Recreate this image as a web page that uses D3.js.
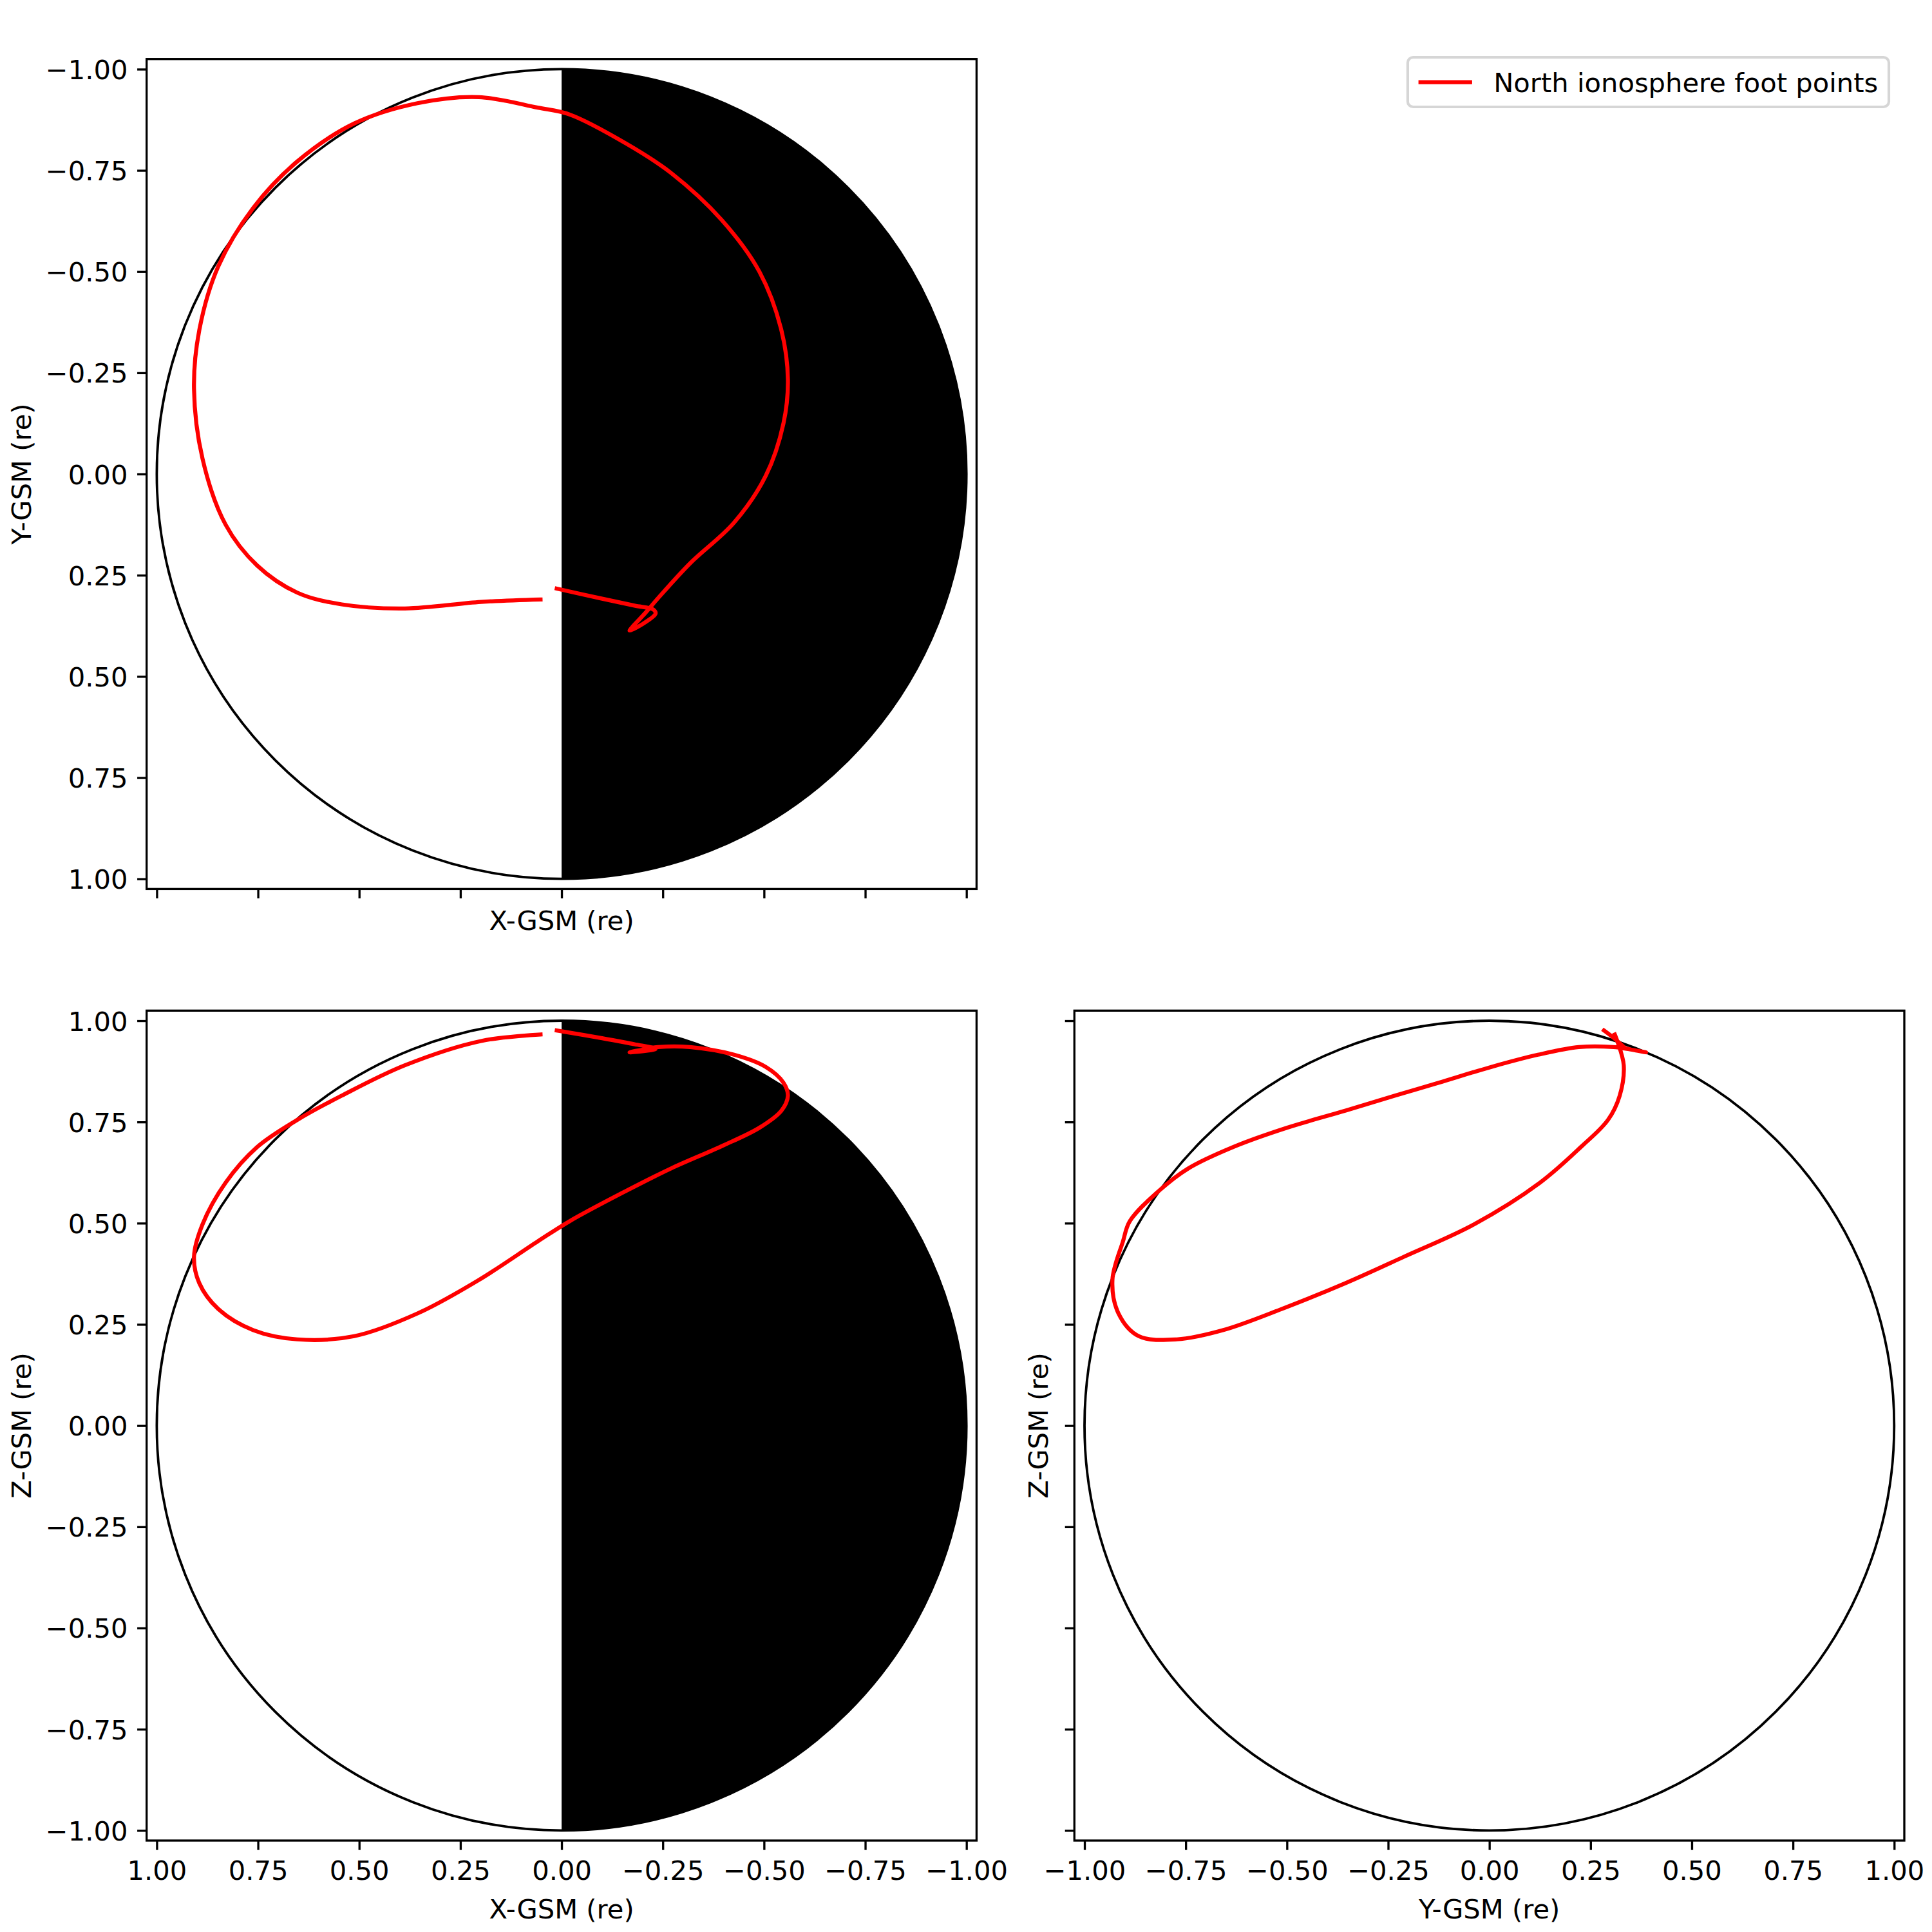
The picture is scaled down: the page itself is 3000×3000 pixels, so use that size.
<!DOCTYPE html>
<html>
<head>
<meta charset="utf-8">
<script src="https://cdn.jsdelivr.net/npm/d3@7"></script>
<style>
  body { margin: 0; background: #fff; }
  text { font-family: "DejaVu Sans", sans-serif; }
</style>
</head>
<body>
<script>
// North ionosphere foot points, GSM coordinates (re), in trace order
const gsmX = [0.012, -0.100, -0.180, -0.227, -0.232, -0.168, -0.207, -0.238, -0.317, -0.426,
              -0.504, -0.548, -0.559, -0.543, -0.489, -0.395, -0.270, -0.160, -0.020, 0.059,
              0.204, 0.356, 0.512, 0.653, 0.762, 0.848, 0.895, 0.908, 0.887, 0.830,
              0.752, 0.653, 0.543, 0.387, 0.199, 0.052];
const gsmY = [0.283, 0.308, 0.325, 0.335, 0.345, 0.387, 0.343, 0.307, 0.221, 0.120,
              0.005, -0.125, -0.233, -0.355, -0.499, -0.628, -0.744, -0.816, -0.888, -0.905,
              -0.931, -0.916, -0.866, -0.772, -0.657, -0.513, -0.355, -0.211, -0.038, 0.125,
              0.226, 0.293, 0.322, 0.332, 0.316, 0.310];
const gsmZ = [0.976, 0.957, 0.942, 0.933, 0.930, 0.922, 0.930, 0.935, 0.935, 0.916,
              0.886, 0.847, 0.815, 0.778, 0.736, 0.690, 0.635, 0.580, 0.505, 0.455,
              0.360, 0.277, 0.221, 0.213, 0.236, 0.288, 0.352, 0.417, 0.497, 0.600,
              0.688, 0.755, 0.815, 0.890, 0.950, 0.966];

const tickValues = [-1, -0.75, -0.5, -0.25, 0, 0.25, 0.5, 0.75, 1];
const legendLabel = "North ionosphere foot points";

const points = gsmX.map((x, i) => ({X: x, Y: gsmY[i], Z: gsmZ[i]}));

const W = 3000, H = 3000;
const size = 1288.7;
const lim = 1.025;
const fs = 41.67;           // 10pt at 300 dpi
const tickLen = 14.6, tickPad = 14.6, lw = 3.33;

const svg = d3.select("body").append("svg")
  .attr("width", W).attr("height", H);
svg.append("rect").attr("width", W).attr("height", H).attr("fill", "#fff");

const panels = [
  {left: 227.7, top: 91.7, h: "X", v: "Y", hDom: [lim, -lim], vDom: [-lim, lim],
   hLabel: "X-GSM (re)", vLabel: "Y-GSM (re)", hTicks: false, vTicks: true, night: true},
  {left: 227.7, top: 1569.3, h: "X", v: "Z", hDom: [lim, -lim], vDom: [lim, -lim],
   hLabel: "X-GSM (re)", vLabel: "Z-GSM (re)", hTicks: true, vTicks: true, night: true},
  {left: 1668.3, top: 1569.3, h: "Y", v: "Z", hDom: [-lim, lim], vDom: [lim, -lim],
   hLabel: "Y-GSM (re)", vLabel: "Z-GSM (re)", hTicks: true, vTicks: false, night: false}
];

const fmt = d3.format(".2f");

panels.forEach(p => {
  const x = d3.scaleLinear().domain(p.hDom).range([p.left, p.left + size]);
  const y = d3.scaleLinear().domain(p.vDom).range([p.top, p.top + size]);
  const g = svg.append("g");

  // night side (X < 0) shaded
  if (p.night) {
    const arc = d3.range(90, 270.5, 1).map(a => [Math.cos(a * Math.PI / 180), Math.sin(a * Math.PI / 180)]);
    g.append("path")
      .attr("d", d3.line().x(d => x(d[0])).y(d => y(d[1]))(arc) + "Z")
      .attr("fill", "#000");
  }

  // Earth outline
  g.append("ellipse")
    .attr("cx", x(0)).attr("cy", y(0))
    .attr("rx", Math.abs(x(1) - x(0))).attr("ry", Math.abs(y(1) - y(0)))
    .attr("fill", "none").attr("stroke", "#000").attr("stroke-width", 3.8);

  // foot point trace
  g.append("path")
    .datum(points)
    .attr("d", d3.line().x(d => x(d[p.h])).y(d => y(d[p.v])).curve(d3.curveCatmullRom.alpha(0.5)))
    .attr("fill", "none")
    .attr("stroke", "#ff0000")
    .attr("stroke-width", 6.25)
    .attr("stroke-linejoin", "round")
    .attr("stroke-linecap", "square");

  // axes
  const xAxis = d3.axisBottom(x).tickValues(tickValues).tickSize(tickLen).tickPadding(tickPad)
    .tickSizeOuter(0).tickFormat(p.hTicks ? fmt : () => "");
  const yAxis = d3.axisLeft(y).tickValues(tickValues).tickSize(tickLen).tickPadding(tickPad)
    .tickSizeOuter(0).tickFormat(p.vTicks ? fmt : () => "");

  const gx = g.append("g").attr("transform", `translate(0,${p.top + size})`).call(xAxis);
  const gy = g.append("g").attr("transform", `translate(${p.left},0)`).call(yAxis);
  [gx, gy].forEach(a => {
    a.select(".domain").remove();
    a.selectAll(".tick line").attr("stroke", "#000").attr("stroke-width", lw);
    a.selectAll(".tick text").attr("fill", "#000")
      .style("font-family", "DejaVu Sans").style("font-size", fs + "px");
  });
  gx.selectAll(".tick text").attr("dy", "0.76em");
  gy.selectAll(".tick text").attr("dy", "0.36em");

  // frame (spines)
  g.append("rect")
    .attr("x", p.left).attr("y", p.top).attr("width", size).attr("height", size)
    .attr("fill", "none").attr("stroke", "#000").attr("stroke-width", lw);

  // axis labels
  const bottom = p.top + size;
  g.append("text")
    .attr("x", p.left + size / 2)
    .attr("y", p.hTicks ? bottom + 121 : bottom + 64)
    .attr("text-anchor", "middle")
    .style("font-size", fs + "px")
    .text(p.hLabel);

  const lx = p.vTicks ? p.left - 180 : p.left - 41;
  g.append("text")
    .attr("transform", `translate(${lx},${p.top + size / 2}) rotate(-90)`)
    .attr("text-anchor", "middle")
    .style("font-size", fs + "px")
    .text(p.vLabel);
});

// legend
const leg = svg.append("g");
const legRight = 2933, legTop = 89, legH = 77;
const legText = leg.append("text")
  .attr("y", legTop + legH / 2 + 15)
  .style("font-size", fs + "px")
  .text(legendLabel);
const tw = legText.node().getComputedTextLength();
const legW = 16.7 + 83.3 + 33.3 + tw + 16.7;
const legLeft = legRight - legW;
legText.attr("x", legLeft + 16.7 + 83.3 + 33.3);
leg.insert("rect", "text")
  .attr("x", legLeft).attr("y", legTop).attr("width", legW).attr("height", legH)
  .attr("rx", 8.3).attr("ry", 8.3)
  .attr("fill", "#fff").attr("stroke", "#d6d6d6").attr("stroke-width", 4.17);
leg.append("line")
  .attr("x1", legLeft + 16.7).attr("x2", legLeft + 16.7 + 83.3)
  .attr("y1", legTop + legH / 2).attr("y2", legTop + legH / 2)
  .attr("stroke", "#ff0000").attr("stroke-width", 6.25);
</script>
</body>
</html>
